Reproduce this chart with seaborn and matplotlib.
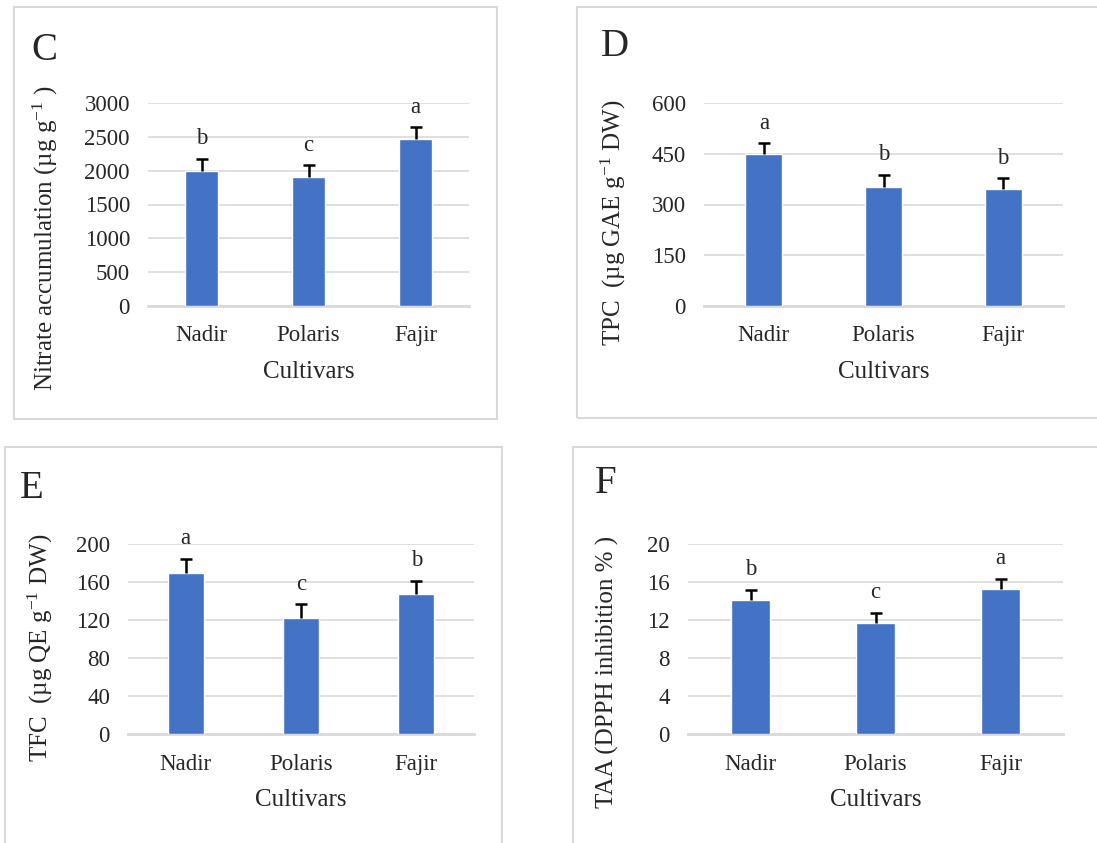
import matplotlib
matplotlib.use("Agg")
import matplotlib.pyplot as plt
import seaborn as sns
import numpy as np
from matplotlib.patches import Rectangle

# Data
cultivars = ["Nadir", "Polaris", "Fajir"]

nitrate = [1995, 1905, 2465]
nitrate_err = [175, 175, 175]
nitrate_sig = ["b", "c", "a"]

tpc = [448, 353, 346]
tpc_err = [33, 34, 31]
tpc_sig = ["a", "b", "b"]

tfc = [169.6, 121.7, 147.2]
tfc_err = [14.4, 14.7, 13.7]
tfc_sig = ["a", "c", "b"]

taa = [14.06, 11.65, 15.21]
taa_err = [1.08, 1.08, 1.09]
taa_sig = ["b", "c", "a"]

sns.set_style("white")
plt.rcParams["font.family"] = ["Liberation Serif", "DejaVu Serif"]
plt.rcParams["mathtext.fontset"] = "custom"
plt.rcParams["mathtext.rm"] = "Liberation Serif"
plt.rcParams["mathtext.it"] = "Liberation Serif:italic"

W, H = 1097, 843
fig = plt.figure(figsize=(W / 100, H / 100), dpi=100)

BAR = "#4472C4"
GRID = "#D9D9D9"


def fx(x):
    return x / W


def fy(y):
    return 1 - y / H


def panel(box, axrect, letter, letter_xy, ylabel, ylabel_xy, xlabel_y,
          values, errs, sig, ymax, yticks):
    # panel frame
    x0, y0, x1, y1 = box
    fig.patches.append(Rectangle((fx(x0), fy(y1)), fx(x1 - x0), (y1 - y0) / H,
                                 transform=fig.transFigure, fill=False,
                                 edgecolor=GRID, linewidth=1.5, zorder=0))
    l, t, r, b = axrect
    ax = fig.add_axes([fx(l), fy(b), fx(r - l), (b - t) / H])
    sns.barplot(x=cultivars, y=values, color=BAR, saturation=1, width=0.31,
                ax=ax, zorder=3)
    xs = np.arange(len(cultivars))
    eb = ax.errorbar(xs, values, yerr=[np.zeros(len(errs)), errs], fmt="none",
                     ecolor="black", elinewidth=1.8, capsize=4, capthick=1.8,
                     zorder=4)
    # only the upper cap is drawn in the original
    eb[1][0].set_visible(False)
    for xi, v, e, s in zip(xs, values, errs, sig):
        ax.annotate(s, (xi, v + e), xytext=(0, 7), textcoords="offset points",
                    ha="center", va="bottom", fontsize=16.5, clip_on=False)
    ax.set_xlim(-0.5, len(cultivars) - 0.5)
    ax.set_ylim(0, ymax)
    ax.set_yticks(yticks)
    ax.yaxis.grid(True, color=GRID, linewidth=1.2, zorder=0)
    ax.set_axisbelow(True)
    for side in ["top", "right", "left"]:
        ax.spines[side].set_visible(False)
    ax.spines["bottom"].set_color(GRID)
    ax.spines["bottom"].set_linewidth(2)
    ax.tick_params(axis="both", length=0, labelsize=16.5)
    ax.tick_params(axis="y", pad=13)
    ax.tick_params(axis="x", pad=14)
    ax.set_xlabel("")
    ax.set_ylabel("")
    fig.text(fx(letter_xy[0]), fy(letter_xy[1]), letter, fontsize=28,
             ha="left", va="center")
    fig.text(fx(ylabel_xy[0]), fy(ylabel_xy[1]), ylabel, fontsize=18,
             rotation=90, ha="center", va="center")
    fig.text(fx((l + r) / 2), fy(xlabel_y), "Cultivars", fontsize=18,
             ha="center", va="center")
    return ax


panel((14, 7, 497, 419), (148, 103, 469, 306), "C", (31, 50),
      "Nitrate accumulation (µg g$^{-1}$ )", (45, 238), 372,
      nitrate, nitrate_err, nitrate_sig, 3000, range(0, 3001, 500))

panel((577, 7, 1110, 418), (704, 103, 1063, 306), "D", (601, 46),
      "TPC  (µg GAE g$^{-1}$ DW)", (613, 223), 372,
      tpc, tpc_err, tpc_sig, 600, range(0, 601, 150))

panel((5, 447, 502, 860), (128, 543.7, 474, 734.3), "E", (20, 489),
      "TFC  (µg QE g$^{-1}$ DW)", (40, 648), 800,
      tfc, tfc_err, tfc_sig, 200, range(0, 201, 40))

panel((573, 447, 1110, 860), (688, 543.7, 1063, 734.3), "F", (595, 483),
      "TAA (DPPH inhibition % )", (607, 672), 800,
      taa, taa_err, taa_sig, 20, range(0, 21, 4))

fig.savefig("out.png", dpi=100, facecolor="white")
